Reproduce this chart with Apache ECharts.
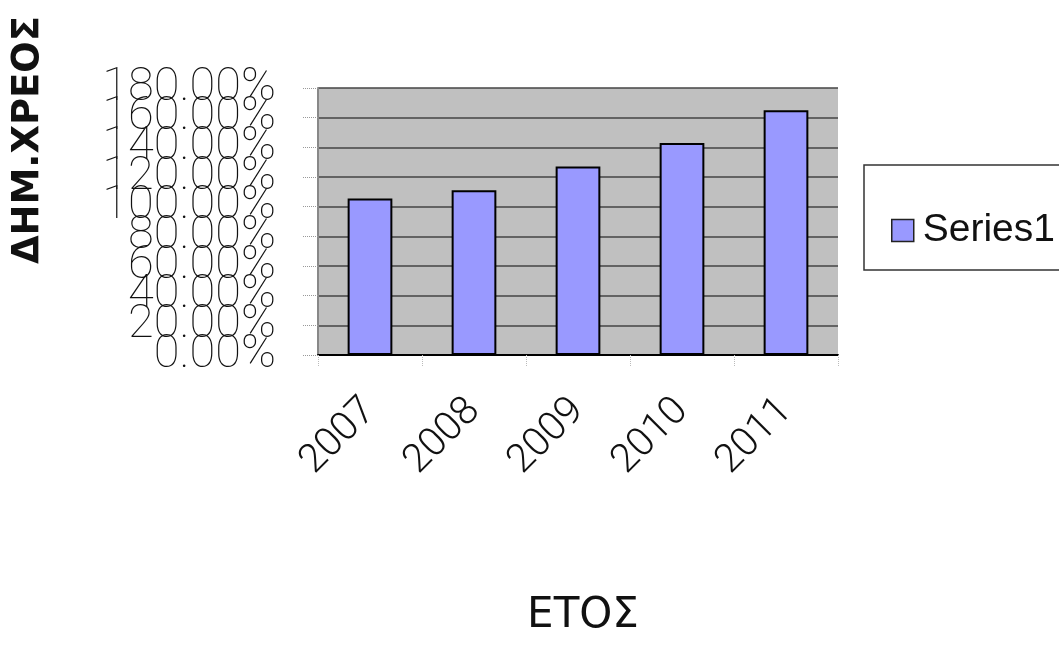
<!DOCTYPE html>
<html>
<head>
<meta charset="utf-8">
<script src="https://cdn.jsdelivr.net/npm/echarts@6/dist/echarts.min.js"></script>
<style>
  html, body { margin: 0; padding: 0; background: #fff; }
  #chart { width: 1059px; height: 660px; }
</style>
</head>
<body>
<div id="chart"></div>
<script>
// data
const years = ['2007', '2008', '2009', '2010', '2011']
const debt = [105.5, 111, 127, 143, 165]   // % of GDP
const seriesName = 'Series1'
const yMin = 0
const yMax = 180
const yStep = 20

const chart = echarts.init(document.getElementById('chart'))

const pct = function (v) { return v.toFixed(2) + '%' }
const yLabelStyle = {
    margin: 42,
    fontSize: 47,
    fontFamily: 'Roboto',
    fontWeight: 100,
    color: '#111'
}

let option = {
    animation: false,
    backgroundColor: '#ffffff',
    grid: {
        left: 318,
        right: 221,
        top: 88,
        bottom: 305,
        show: true,
        backgroundColor: '#c0c0c0',
        borderWidth: 0
    },
    legend: {
        left: 886,
        top: 206,
        itemWidth: 22,
        itemHeight: 22,
        itemGap: 10,
        icon: 'rect',
        itemStyle: { borderColor: '#222', borderWidth: 1.5 },
        textStyle: { fontSize: 39, fontFamily: 'Liberation Sans', color: '#111', padding: [0, 0, 0, 4] },
        data: [seriesName]
    },
    graphic: [
        // legend frame (runs off the right edge like the reference)
        {
            type: 'rect',
            z: -1,
            shape: { x: 864, y: 165, width: 260, height: 105 },
            style: { fill: '#fff', stroke: '#333', lineWidth: 1.5 }
        },
        {
            type: 'text',
            x: 28,
            y: 140,
            rotation: Math.PI / 2,
            style: {
                text: 'ΔΗΜ.ΧΡΕΟΣ',
                fontSize: 37,
                fontFamily: 'DejaVu Sans',
                fontWeight: 'bold',
                fill: '#111',
                align: 'center',
                verticalAlign: 'middle'
            }
        },
        {
            type: 'text',
            x: 583,
            y: 616,
            style: {
                text: 'ΕΤΟΣ',
                fontSize: 42,
                fontFamily: 'DejaVu Sans',
                fill: '#111',
                align: 'center',
                verticalAlign: 'middle'
            }
        }
    ],
    xAxis: {
        type: 'category',
        data: years,
        axisLine: { lineStyle: { color: '#000', width: 2 } },
        axisTick: { show: true, length: 12, lineStyle: { color: '#bbb', type: 'dotted' } },
        axisLabel: {
            rotate: 45,
            margin: 50,
            fontSize: 40,
            fontFamily: 'Roboto',
            fontWeight: 300,
            color: '#111'
        },
        splitLine: { show: false }
    },
    yAxis: [
        {
            // main axis: lines, ticks, and only the end labels
            type: 'value',
            min: yMin,
            max: yMax,
            interval: yStep,
            position: 'left',
            axisLine: { show: true, lineStyle: { color: '#888', width: 2 } },
            axisTick: { show: true, length: 16, lineStyle: { color: '#999', type: 'dotted' } },
            axisLabel: Object.assign({}, yLabelStyle, {
                showMinLabel: true,
                showMaxLabel: true,
                formatter: function (v) { return (v === yMin || v === yMax) ? pct(v) : '' }
            }),
            splitLine: { show: true, lineStyle: { color: '#444', width: 1.5 } }
        },
        {
            // twin axis: the crowded inner labels (overlapping like the original)
            type: 'value',
            min: yMin,
            max: yMax,
            interval: yStep,
            position: 'left',
            offset: 0,
            axisLine: { show: false },
            axisTick: { show: false },
            splitLine: { show: false },
            axisLabel: Object.assign({}, yLabelStyle, {
                showMinLabel: false,
                showMaxLabel: false,
                formatter: pct
            })
        }
    ],
    series: [
        {
            name: seriesName,
            type: 'bar',
            yAxisIndex: 0,
            data: debt,
            barWidth: '43%',
            itemStyle: {
                color: '#9999ff',
                borderColor: '#000',
                borderWidth: 2
            }
        }
    ]
}
chart.setOption(option)
</script>
</body>
</html>
